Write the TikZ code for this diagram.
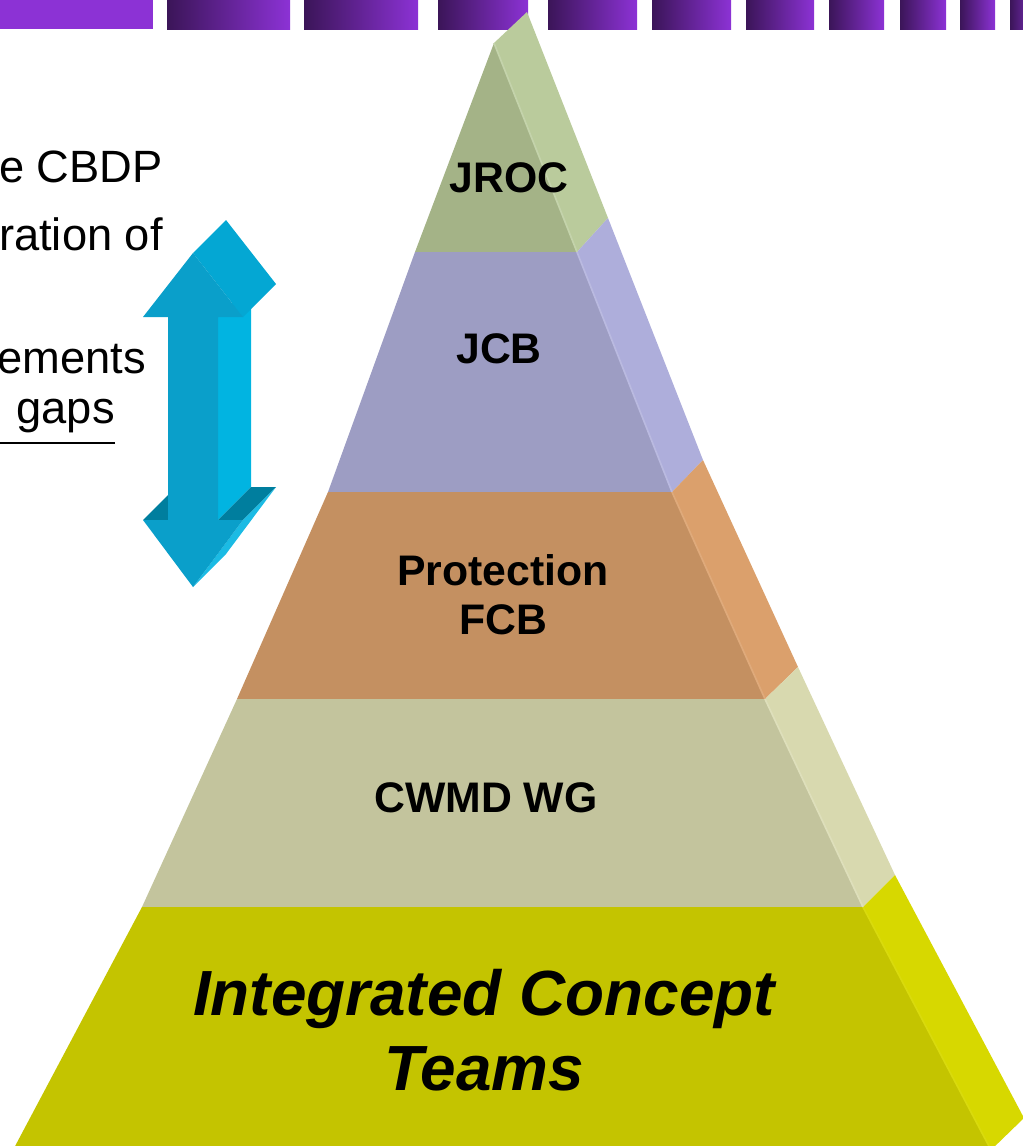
\documentclass[tikz,border=0pt]{standalone}
\usepackage{fontspec}
\setmainfont{Liberation Sans}
\usepackage{xcolor}
\usepackage{tikz}
\usetikzlibrary{positioning}
\pgfdeclarelayer{nodelayer}
\pgfdeclarelayer{edgelayer}
\pgfsetlayers{nodelayer,edgelayer,main}
\definecolor{bardark}{HTML}{3B1558}
\definecolor{barpurple}{HTML}{8C32D5}
\definecolor{jrocfront}{HTML}{A4B387}
\definecolor{jrocside}{HTML}{BACB9C}
\definecolor{jcbfront}{HTML}{9D9DC3}
\definecolor{jcbside}{HTML}{AEAEDB}
\definecolor{fcbfront}{HTML}{C49061}
\definecolor{fcbside}{HTML}{DBA06C}
\definecolor{cwmdfront}{HTML}{C3C49D}
\definecolor{cwmdside}{HTML}{D8D9AF}
\definecolor{ictfront}{HTML}{C4C400}
\definecolor{ictside}{HTML}{D7D800}
\definecolor{arrowfront}{HTML}{0A9FCA}
\definecolor{arrowhead}{HTML}{04A7D3}
\definecolor{arrowside}{HTML}{01B4E1}
\definecolor{arrowdark}{HTML}{007E9E}
\tikzset{
    none/.style = {inner sep=0pt},
    bar/.style = {left color=bardark, right color=barpurple},
    seam/.style = {line width=1.2pt},
    tier/.style = {inner sep=0pt, align=center, font=\fontsize{30.4}{34.7}\selectfont\bfseries},
    bigtier/.style = {inner sep=0pt, align=center, font=\fontsize{45.4}{53.1}\selectfont\bfseries\itshape},
    bullet/.style = {inner sep=0pt, anchor=base east, font=\fontsize{32.2}{36}\selectfont}
}
\begin{document}
\begin{tikzpicture}[x=0.025cm, y=-0.025cm]
    \useasboundingbox (0, 0) rectangle (1023, 1146);
    \begin{pgfonlayer}{nodelayer}
        % title bar
        \fill [barpurple] (0, 0) rectangle (153, 29);
        \shade [bar] (167, 0) rectangle (290, 29);
        \shade [bar] (304, 0) rectangle (418, 29);
        \shade [bar] (438, 0) rectangle (528, 29);
        \shade [bar] (548, 0) rectangle (637, 29);
        \shade [bar] (652, 0) rectangle (731, 29);
        \shade [bar] (746, 0) rectangle (814, 29);
        \shade [bar] (829, 0) rectangle (884, 29);
        \shade [bar] (900, 0) rectangle (946, 29);
        \shade [bar] (960, 0) rectangle (995, 29);
        \shade [bar] (1010, 0) rectangle (1040, 29);
        % pyramid corners
        \node [style=none] (0) at (494, 43) {};
        \node [style=none] (1) at (527, 12) {};
        \node [style=none] (2) at (415, 252) {};
        \node [style=none] (3) at (577, 252) {};
        \node [style=none] (4) at (608, 218) {};
        \node [style=none] (5) at (328, 492) {};
        \node [style=none] (6) at (672, 492) {};
        \node [style=none] (7) at (703, 460) {};
        \node [style=none] (8) at (237, 699) {};
        \node [style=none] (9) at (765, 699) {};
        \node [style=none] (10) at (798, 667) {};
        \node [style=none] (11) at (142, 907) {};
        \node [style=none] (12) at (863, 907) {};
        \node [style=none] (13) at (895, 875) {};
        \node [style=none] (14) at (13, 1150) {};
        \node [style=none] (15) at (991, 1150) {};
        \node [style=none] (16) at (1024, 1118) {};
        % arrow corners
        \node [style=none] (20) at (193, 253) {};
        \node [style=none] (21) at (226, 220) {};
        \node [style=none] (22) at (143, 317) {};
        \node [style=none] (23) at (243, 317) {};
        \node [style=none] (24) at (276, 284) {};
        \node [style=none] (25) at (168, 317) {};
        \node [style=none] (26) at (218, 317) {};
        \node [style=none] (27) at (251, 284) {};
        \node [style=none] (28) at (168, 520) {};
        \node [style=none] (29) at (218, 520) {};
        \node [style=none] (30) at (251, 487) {};
        \node [style=none] (31) at (143, 520) {};
        \node [style=none] (32) at (243, 520) {};
        \node [style=none] (33) at (276, 487) {};
        \node [style=none] (34) at (193, 587) {};
        \node [style=none] (35) at (226, 554) {};
        \node [style=none] (36) at (176, 487) {};
        \node [style=none] (37) at (201, 487) {};
    \end{pgfonlayer}
    \begin{pgfonlayer}{edgelayer}
        % pyramid
        \fill [jrocfront] (0.center) -- (2.center) -- (3.center) -- cycle;
        \fill [jrocside] (0.center) -- (1.center) -- (4.center) -- (3.center) -- cycle;
        \fill [jcbfront] (2.center) -- (3.center) -- (6.center) -- (5.center) -- cycle;
        \fill [jcbside] (3.center) -- (4.center) -- (7.center) -- (6.center) -- cycle;
        \fill [fcbfront] (5.center) -- (6.center) -- (9.center) -- (8.center) -- cycle;
        \fill [fcbside] (6.center) -- (7.center) -- (10.center) -- (9.center) -- cycle;
        \fill [cwmdfront] (8.center) -- (9.center) -- (12.center) -- (11.center) -- cycle;
        \fill [cwmdside] (9.center) -- (10.center) -- (13.center) -- (12.center) -- cycle;
        \fill [ictfront] (11.center) -- (12.center) -- (15.center) -- (14.center) -- cycle;
        \fill [ictside] (12.center) -- (13.center) -- (16.center) -- (15.center) -- cycle;
        \draw [seam, jrocside!85!white] (0.center) to (3.center);
        \draw [seam, jcbside!85!white] (3.center) to (6.center);
        \draw [seam, fcbside!90!white] (6.center) to (9.center);
        \draw [seam, cwmdside!85!white] (9.center) to (12.center);
        \draw [seam, ictside!95!white] (12.center) to (15.center);
        % arrow
        \fill [arrowside] (26.center) -- (29.center) -- (30.center) -- (27.center) -- cycle;
        \fill [arrowdark] (29.center) -- (32.center) -- (33.center) -- (30.center) -- cycle;
        \fill [arrowdark] (31.center) -- (28.center) -- (37.center) -- (36.center) -- cycle;
        \fill [arrowside!90!white] (32.center) -- (34.center) -- (35.center) -- (33.center) -- cycle;
        \fill [arrowhead] (20.center) -- (23.center) -- (24.center) -- (21.center) -- cycle;
        \fill [arrowfront] (20.center) -- (22.center) -- (25.center) -- (28.center) -- (31.center) -- (34.center) -- (32.center) -- (29.center) -- (26.center) -- (23.center) -- cycle;
    \end{pgfonlayer}
    % labels
    \node [tier, anchor=base] (jroc) at (509, 192) {JROC};
    \node [tier, anchor=base] (jcb) at (499, 363) {JCB};
    \node [tier] (fcb) at (503, 595) {Protection\\FCB};
    \node [tier, anchor=base] (cwmd) at (486, 812) {CWMD WG};
    \node [bigtier] (ict) at (484, 1030) {Integrated Concept\\Teams};
    % bullet text
    \node [bullet] (cbdp) at (163, 182) {e CBDP};
    \node [bullet] (ration) at (163, 250) {ration of};
    \node [bullet] (ements) at (146, 373) {ements};
    \node [bullet] (gaps) at (115, 423) {gaps};
    \draw [line width=2pt] (gaps.base east) ++(0, 20) -- ++(-130, 0);
\end{tikzpicture}
\end{document}
